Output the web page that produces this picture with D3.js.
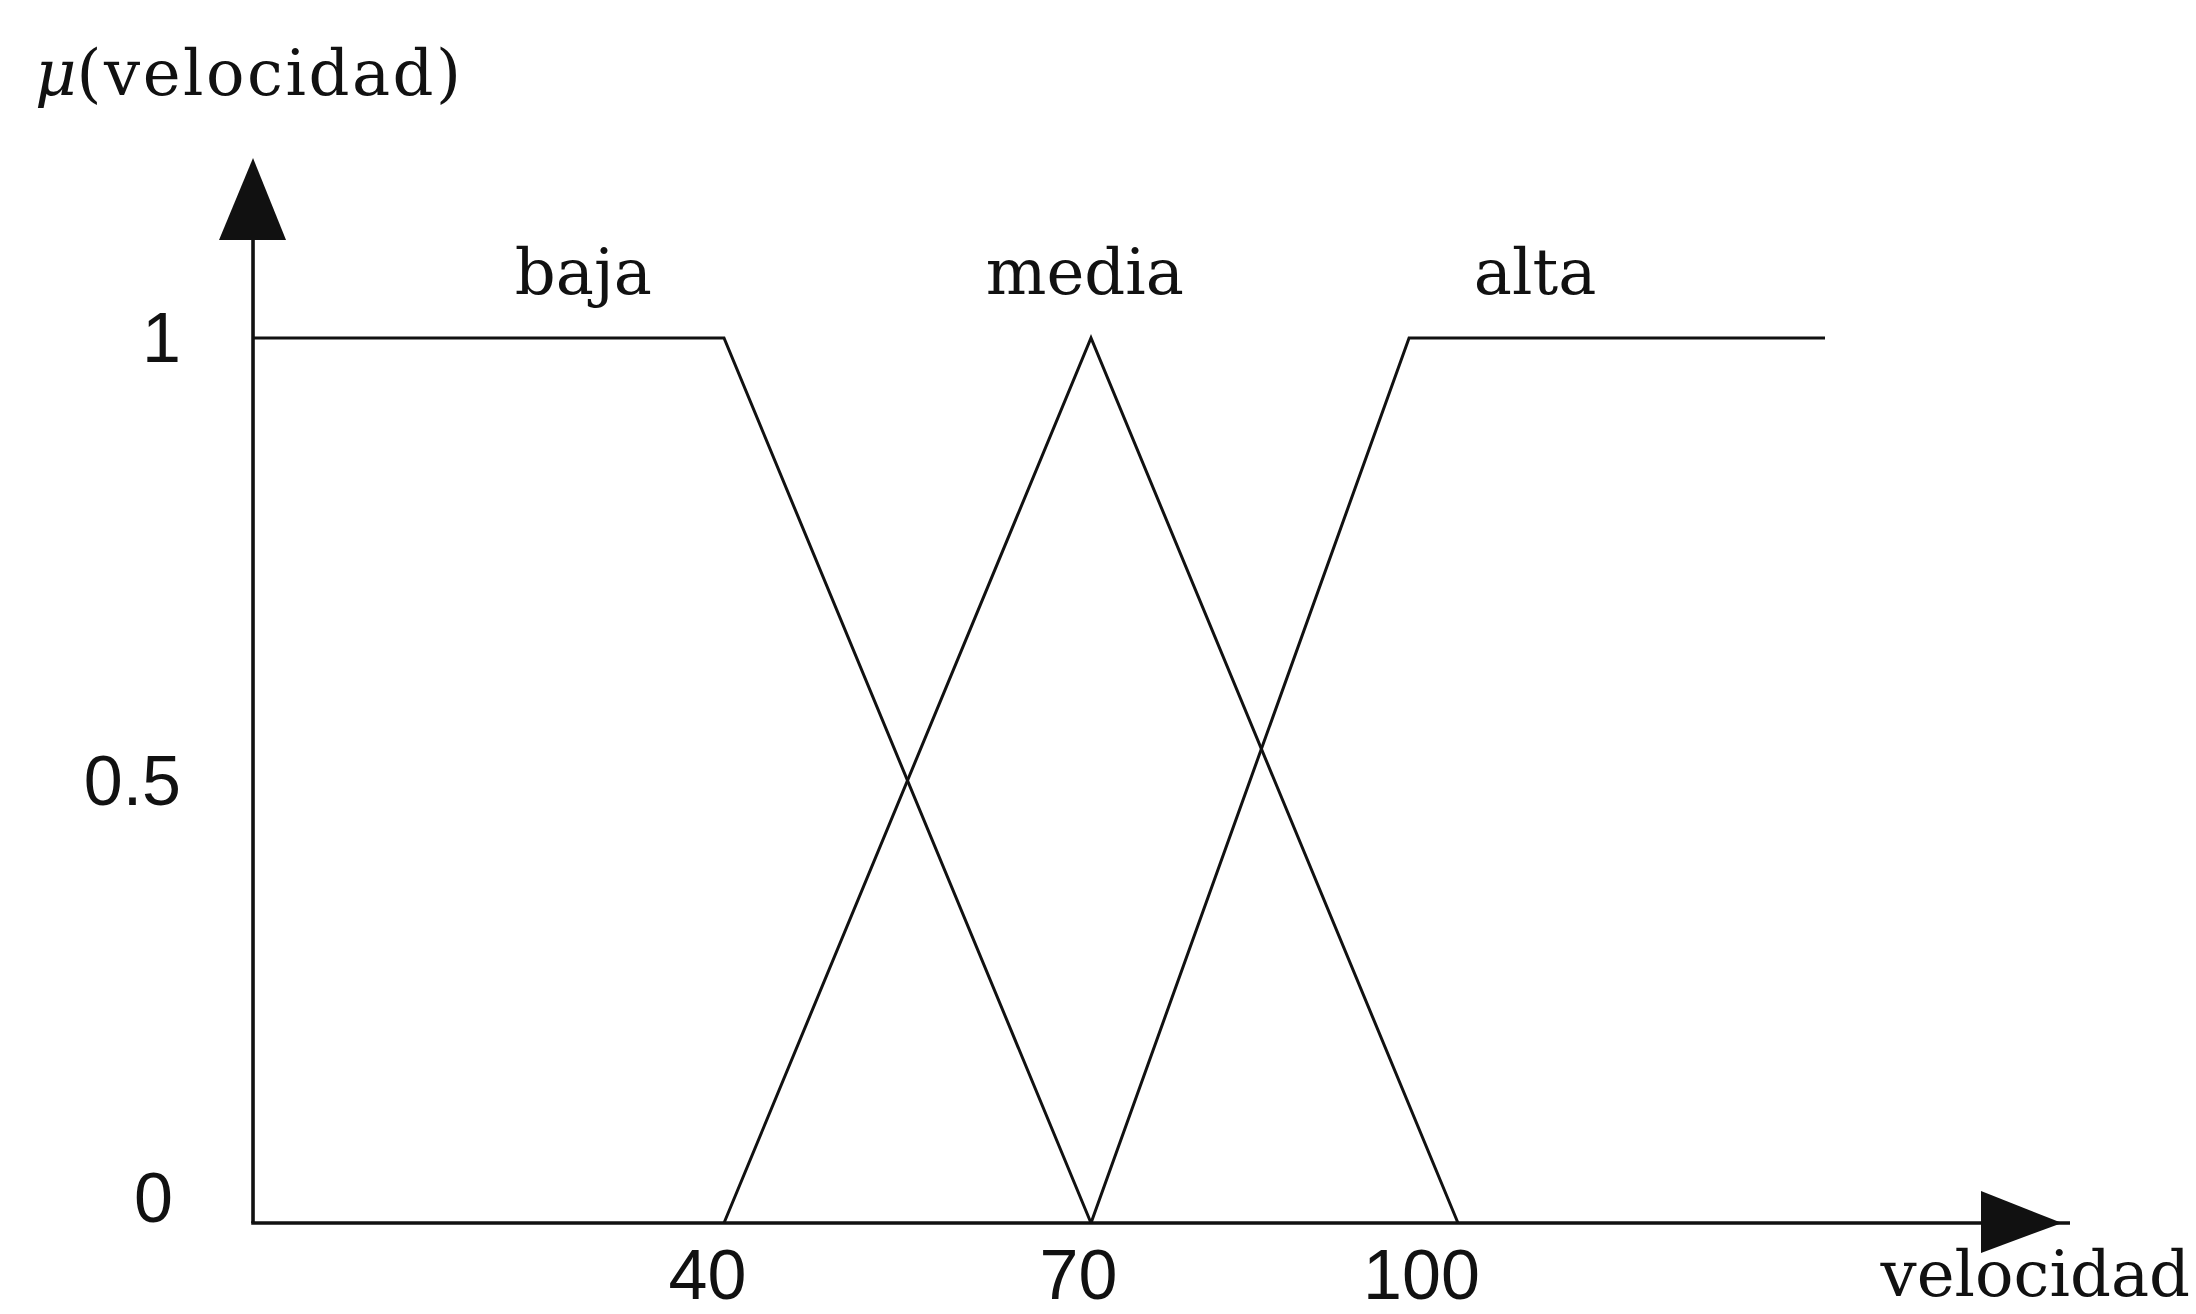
<!DOCTYPE html>
<html>
<head>
<meta charset="utf-8">
<script src="https://cdn.jsdelivr.net/npm/d3@7"></script>
<style>
  html, body { margin: 0; padding: 0; background: #ffffff; }
  svg { display: block; }
</style>
</head>
<body>
<svg id="chart" width="2196" height="1314"></svg>
<script>
// ---- data ----
const categories = ["baja", "media", "alta"];
const bajaX  = [1.5, 40, 70];
const bajaY  = [1, 1, 0];
const mediaX = [40, 70, 100];
const mediaY = [0, 1, 0];
const altaX  = [70, 96, 130];
const altaY  = [0, 1, 1];
const labelX = [28.5, 69.5, 106.3];   // where the set names sit (in velocidad units)
const xTicks = [40, 70, 100];
const yTicks = [0, 0.5, 1];
const yTickLabels = ["0", "0.5", "1"];
const xAxisTitle = "velocidad";
const yAxisTitle = "(velocidad)";
const yAxisSymbol = "μ";

// ---- layout ----
const W = 2196, H = 1314;
const svg = d3.select("#chart");
svg.append("rect").attr("width", W).attr("height", H).attr("fill", "#ffffff");

const x = d3.scaleLinear().domain([40, 100]).range([724, 1458]);
const y = d3.scaleLinear().domain([0, 1]).range([1223, 338]);

const x0 = x(bajaX[0]);      // y-axis position (axis origin)
const y0 = y(0);
const serif = "'DejaVu Serif', 'Liberation Serif', serif";
const sans = "'Liberation Sans', Arial, sans-serif";

// ---- axes lines + arrows ----
const axisG = svg.append("g").attr("stroke", "#111").attr("fill", "#111");
axisG.append("line").attr("x1", x0).attr("y1", y0).attr("x2", x0).attr("y2", 236)
  .attr("stroke-width", 3.6);
axisG.append("path")
  .attr("d", `M${x0},158 L${x0 + 33},240 L${x0 - 34},240 Z`).attr("stroke", "none");
axisG.append("line").attr("x1", x0 - 1.8).attr("y1", y0).attr("x2", 2070).attr("y2", y0)
  .attr("stroke-width", 3.6);
axisG.append("path")
  .attr("d", `M1981,${y0 - 32} L2062,${y0} L1981,${y0 + 30} Z`).attr("stroke", "none");

// ---- tick labels via d3 axes ----
const xAxis = d3.axisBottom(x).tickValues(xTicks).tickSize(0).tickPadding(0)
  .tickFormat(d3.format("d"));
const gx = svg.append("g").attr("transform", `translate(0,${y0})`).call(xAxis);
gx.select(".domain").remove();
const xLabelShift = {40: -17, 70: -13, 100: -37};
gx.selectAll(".tick text")
  .attr("font-family", sans).attr("font-size", 70).attr("fill", "#111")
  .attr("dy", null).attr("y", 76)
  .attr("dx", d => xLabelShift[d]);

const yAxis = d3.axisLeft(y).tickValues(yTicks).tickSize(0).tickPadding(0)
  .tickFormat((d, i) => yTickLabels[i]);
const gy = svg.append("g").attr("transform", `translate(${x0 - 72},0)`).call(yAxis);
gy.select(".domain").remove();
gy.selectAll(".tick text")
  .attr("font-family", sans).attr("font-size", 70).attr("fill", "#111")
  .attr("dy", d => d === 0 ? "-0.02em" : "0.34em")
  .attr("dx", d => d === 0 ? -8 : 0);

// ---- membership functions ----
const line = d3.line().x(d => x(d[0])).y(d => y(d[1]));
const series = [
  d3.zip(bajaX, bajaY),
  d3.zip(mediaX, mediaY),
  d3.zip(altaX, altaY)
];
svg.append("g").selectAll("path").data(series).join("path")
  .attr("d", line)
  .attr("fill", "none").attr("stroke", "#111").attr("stroke-width", 3)
  .attr("stroke-linejoin", "miter");

// ---- set names ----
svg.append("g").selectAll("text").data(categories).join("text")
  .attr("x", (d, i) => x(labelX[i]))
  .attr("y", y(1) - 44)
  .attr("text-anchor", "middle")
  .attr("font-family", serif).attr("font-size", 64).attr("fill", "#111")
  .text(d => d);

// ---- axis titles ----
const t = svg.append("text").attr("x", 35).attr("y", 95)
  .attr("font-family", serif).attr("font-size", 64).attr("fill", "#111");
t.append("tspan").attr("font-style", "italic").attr("font-family", "'DejaVu Serif', serif")
  .text(yAxisSymbol);
t.append("tspan").attr("dx", 0).attr("letter-spacing", 2.5).text(yAxisTitle);

svg.append("text").attr("x", 2190).attr("y", 1296).attr("text-anchor", "end")
  .attr("font-family", serif).attr("font-size", 64).attr("fill", "#111")
  .text(xAxisTitle);
</script>
</body>
</html>
